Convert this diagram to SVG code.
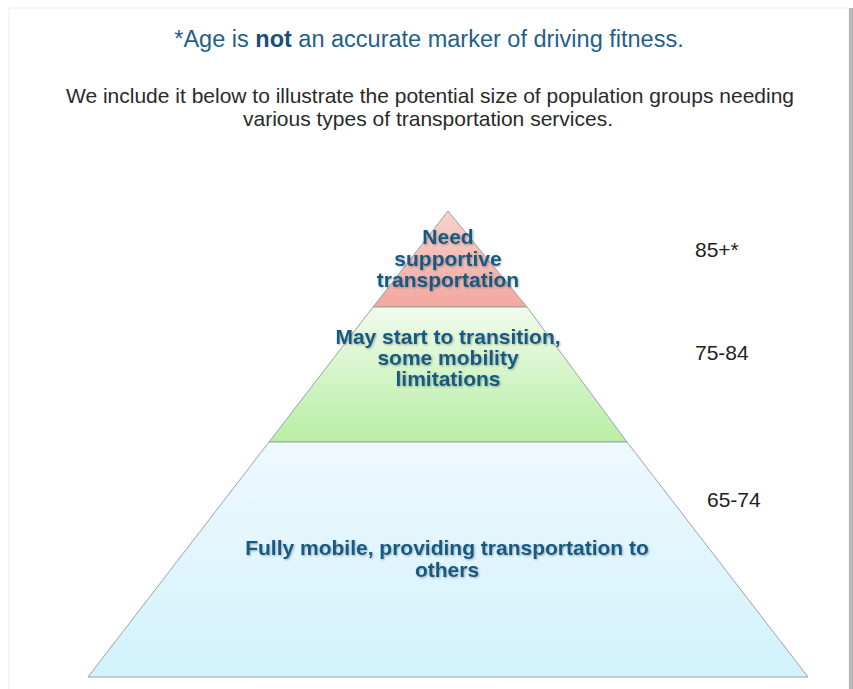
<svg xmlns="http://www.w3.org/2000/svg" width="853" height="689" viewBox="0 0 853 689">
<defs>
<linearGradient id="gTop" x1="0" y1="0" x2="0" y2="1">
<stop offset="0" stop-color="#f7d2cc"/><stop offset="1" stop-color="#f2a8a0"/>
</linearGradient>
<linearGradient id="gMid" x1="0" y1="0" x2="0" y2="1">
<stop offset="0" stop-color="#f0fbec"/><stop offset="1" stop-color="#b9eea4"/>
</linearGradient>
<linearGradient id="gBot" x1="0" y1="0" x2="0" y2="1">
<stop offset="0" stop-color="#eef9fd"/><stop offset="1" stop-color="#d2f2fc"/>
</linearGradient>
<filter id="glow" x="-10%" y="-20%" width="120%" height="140%">
<feGaussianBlur in="SourceAlpha" stdDeviation="1.2" result="b"/>
<feOffset dx="0.5" dy="1" in="b" result="o"/>
<feComponentTransfer in="o" result="s"><feFuncA type="linear" slope="0.3"/></feComponentTransfer>
<feMerge><feMergeNode in="s"/><feMergeNode in="SourceGraphic"/></feMerge>
</filter>
</defs>
<style>
.tier{stroke:#9aa3a8;stroke-width:1}
.lbl{font-family:"Liberation Sans",Arial,sans-serif;font-weight:bold;font-size:21px;fill:#185a84;text-anchor:middle}
.age{font-family:"Liberation Sans",Arial,sans-serif;font-size:21px;fill:#222}
.sub{font-family:"Liberation Sans",Arial,sans-serif;font-size:21px;fill:#2a2a2a;text-anchor:middle}
</style>
<rect x="0" y="0" width="853" height="689" fill="#ffffff"/>
<rect x="9" y="8" width="840" height="690" fill="#ffffff" stroke="#eeeeee" stroke-width="1"/>
<rect x="849" y="8" width="4" height="681" fill="#b8b8b8"/>
<text x="429" y="47" font-family="'Liberation Sans',Arial,sans-serif" font-size="23.5" fill="#1f5f8a" text-anchor="middle">*Age is <tspan font-weight="bold" fill="#174f78">not</tspan> an accurate marker of driving fitness.</text>
<text class="sub" x="430" y="103">We include it below to illustrate the potential size of population groups needing</text>
<text class="sub" x="428" y="126">various types of transportation services.</text>
<g id="tier-top">
<polygon class="tier" points="448,211 527,307 373,307" fill="url(#gTop)"/>
<text class="lbl" filter="url(#glow)"><tspan x="448" y="244">Need</tspan><tspan x="448" y="266">supportive</tspan><tspan x="448" y="287">transportation</tspan></text>
</g>
<g id="tier-mid">
<polygon class="tier" points="373,307 527,307 627,442 269,442" fill="url(#gMid)"/>
<text class="lbl" filter="url(#glow)"><tspan x="448" y="344">May start to transition,</tspan><tspan x="448" y="365">some mobility</tspan><tspan x="448" y="386">limitations</tspan></text>
</g>
<g id="tier-bot">
<polygon class="tier" points="269,442 627,442 808,677 88,677" fill="url(#gBot)"/>
<text class="lbl" filter="url(#glow)"><tspan x="447" y="555">Fully mobile, providing transportation to</tspan><tspan x="447" y="577">others</tspan></text>
</g>
<g id="connectors"></g>
<text class="age" x="695" y="257">85+*</text>
<text class="age" x="695" y="360">75-84</text>
<text class="age" x="707" y="507">65-74</text>
</svg>
